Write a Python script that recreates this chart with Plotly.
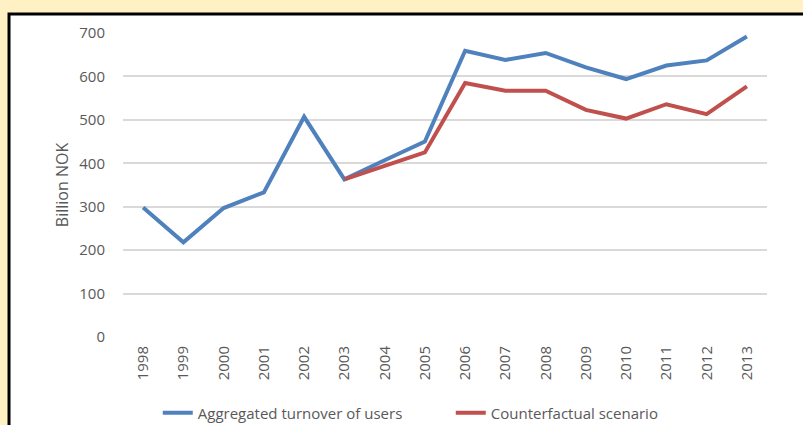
import plotly.graph_objects as go

# Values (billion NOK)
years = [str(y) for y in range(1998, 2014)]
turnover = [298, 218, 297, 333, 507, 363, 407, 450, 659, 638, 654, 621, 594, 625, 637, 692]
counterfactual_years = years[5:]
counterfactual = [363, 393, 425, 585, 567, 567, 523, 503, 536, 513, 577]

FONT = "Open Sans"
GREY_TEXT = "#595959"

fig = go.Figure()

fig.add_trace(go.Scatter(
    x=years, y=turnover, mode="lines",
    name="Aggregated turnover of users",
    line=dict(color="#4f81bd", width=4),
))
fig.add_trace(go.Scatter(
    x=counterfactual_years, y=counterfactual, mode="lines",
    name="Counterfactual scenario",
    line=dict(color="#c0504d", width=4),
))

# white chart panel with black frame on the yellow page
fig.add_shape(
    type="rect", xref="paper", yref="paper",
    x0=-0.177, x1=1.6, y0=-0.8, y1=1.0625,
    fillcolor="white", line=dict(color="black", width=3),
    layer="below",
)

fig.update_layout(
    width=803, height=425,
    margin=dict(l=123, r=36, t=33, b=88, autoexpand=False),
    paper_bgcolor="#fff1c4",
    plot_bgcolor="white",
    font=dict(family=FONT, size=15, color=GREY_TEXT),
    showlegend=True,
    legend=dict(
        orientation="h", x=0.054, xanchor="left", y=-0.25, yanchor="middle",
        bgcolor="rgba(0,0,0,0)", font=dict(size=15, color=GREY_TEXT),
        entrywidth=248, entrywidthmode="pixels",
    ),
)

fig.update_xaxes(
    type="category", range=[-0.5, 15.5],
    showgrid=False, showline=False, zeroline=False,
    tickangle=-90, ticks="", ticklabelstandoff=5,
    tickfont=dict(size=15, color=GREY_TEXT),
)
fig.update_yaxes(
    range=[0, 700], dtick=100,
    showgrid=True, gridcolor="#d9d9d9", gridwidth=1.5,
    zeroline=False, showline=False, ticks="", ticklabelstandoff=17,
    tickfont=dict(size=15, color=GREY_TEXT),
    title=dict(text="Billion NOK", font=dict(size=16, color=GREY_TEXT), standoff=6),
)

# the page's default 8px body margin would push the figure off the window
fig.write_html(
    "out.html",
    config={"displayModeBar": False},
    post_script="document.body.style.margin = '0';",
)
